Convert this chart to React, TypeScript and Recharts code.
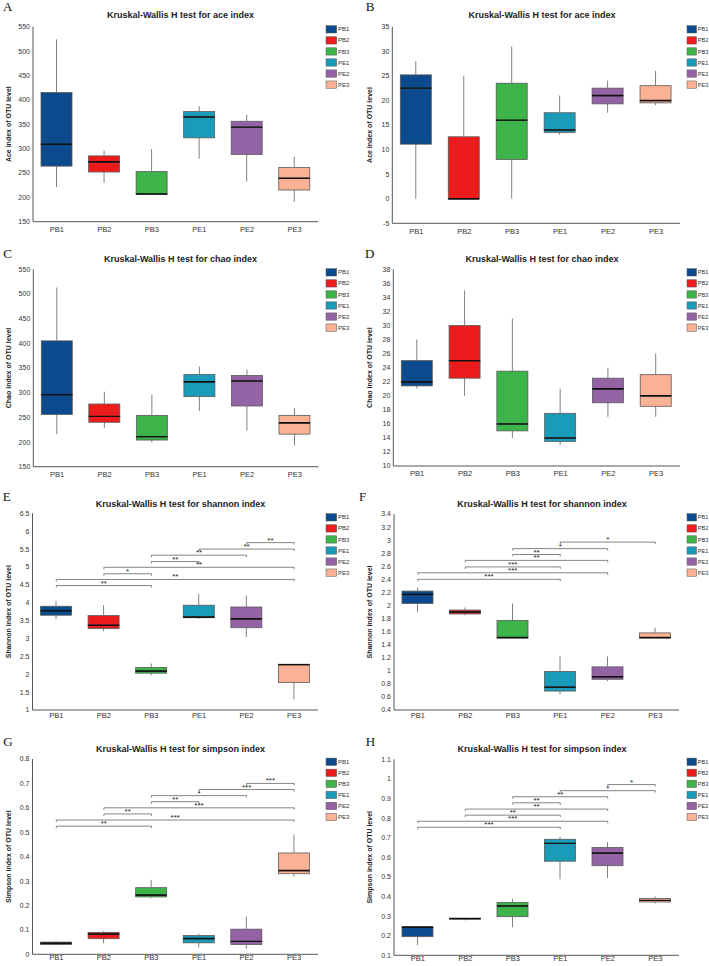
import React from 'react';
import { ComposedChart, Bar, XAxis, YAxis, ReferenceLine } from 'recharts';

const groups = ['PB1', 'PB2', 'PB3', 'PE1', 'PE2', 'PE3'];
const groupColors = ['#0b4a8c', '#ec1c1c', '#3cb44a', '#1a9bb8', '#9463a6', '#fbb193'];

// box stats per group: [min, q1, median, q3, max]
const aceA = [[221, 264, 309, 415, 524], [230, 252, 273, 285, 296], [205, 206, 207, 253, 299], [279, 322, 365, 376, 387], [232, 288, 344, 356, 369], [191, 215, 239, 261, 283]];
const aceB = [[0, 11.1, 22.5, 25.2, 28], [0, 0, 0, 12.6, 25], [0, 8, 16, 23.5, 31], [13, 13.5, 14, 17.5, 21], [17.5, 19.3, 21, 22.5, 24], [19, 19.5, 20, 23, 26]];
const chaoC = [[216, 256, 296, 405, 513], [228, 240, 252, 277, 302], [199, 204, 211, 254, 296], [263, 292, 322, 337, 353], [223, 273, 324, 335, 347], [193, 216, 239, 254, 269]];
const chaoD = [[21, 21.4, 22, 25, 28], [20, 22.5, 25, 30, 35], [14, 15, 16, 23.5, 31], [13, 13.5, 14, 17.5, 21], [17, 19, 21, 22.5, 24], [17, 18.5, 20, 23, 26]];
const shannonE = [[3.54, 3.65, 3.78, 3.9, 4.05], [3.2, 3.28, 3.37, 3.64, 3.93], [1.97, 2.03, 2.09, 2.19, 2.3], [3.55, 3.58, 3.6, 3.93, 4.24], [3.04, 3.3, 3.55, 3.88, 4.2], [1.3, 1.77, 2.27, 2.28, 2.28]];
const shannonF = [[1.9, 2.03, 2.17, 2.22, 2.27], [1.85, 1.87, 1.9, 1.93, 1.97], [1.5, 1.5, 1.51, 1.77, 2.03], [0.64, 0.69, 0.75, 0.99, 1.22], [0.84, 0.87, 0.91, 1.06, 1.22], [1.5, 1.5, 1.51, 1.58, 1.66]];
const simpsonG = [[0.038, 0.04, 0.045, 0.05, 0.055], [0.045, 0.064, 0.083, 0.09, 0.095], [0.23, 0.235, 0.243, 0.273, 0.305], [0.028, 0.047, 0.065, 0.077, 0.085], [0.023, 0.04, 0.053, 0.103, 0.155], [0.318, 0.33, 0.343, 0.415, 0.49]];
const simpsonH = [[0.152, 0.195, 0.243, 0.245, 0.245], [0.278, 0.285, 0.287, 0.29, 0.29], [0.243, 0.297, 0.352, 0.37, 0.388], [0.488, 0.58, 0.671, 0.692, 0.705], [0.495, 0.557, 0.622, 0.65, 0.677], [0.365, 0.372, 0.38, 0.39, 0.4]];

// significance brackets: [from, to, y, stars]
const bracketsE: [string, string, number, string][] = [['PB1', 'PB3', 4.48, '**'], ['PB1', 'PE3', 4.65, '**'], ['PB2', 'PB3', 4.81, '*'], ['PB2', 'PE3', 4.99, '**'], ['PB3', 'PE1', 5.15, '**'], ['PB3', 'PE2', 5.33, '**'], ['PE1', 'PE3', 5.5, '**'], ['PE2', 'PE3', 5.68, '**']];
const bracketsF: [string, string, number, string][] = [['PB1', 'PE1', 2.4, '***'], ['PB1', 'PE2', 2.5, '***'], ['PB2', 'PE1', 2.59, '***'], ['PB2', 'PE2', 2.69, '**'], ['PB3', 'PE1', 2.78, '**'], ['PB3', 'PE2', 2.87, '*'], ['PE1', 'PE3', 2.97, '*']];
const bracketsG: [string, string, number, string][] = [['PB1', 'PB3', 0.525, '**'], ['PB1', 'PE3', 0.55, '***'], ['PB2', 'PB3', 0.575, '**'], ['PB2', 'PE3', 0.6, '***'], ['PB3', 'PE1', 0.625, '**'], ['PB3', 'PE2', 0.65, '*'], ['PE1', 'PE3', 0.675, '***'], ['PE2', 'PE3', 0.7, '***']];
const bracketsH: [string, string, number, string][] = [['PB1', 'PE1', 0.753, '***'], ['PB1', 'PE2', 0.784, '***'], ['PB2', 'PE1', 0.815, '**'], ['PB2', 'PE2', 0.846, '**'], ['PB3', 'PE1', 0.878, '**'], ['PB3', 'PE2', 0.909, '**'], ['PE1', 'PE3', 0.94, '*'], ['PE2', 'PE3', 0.971, '*']];

const ticksAce = [150, 200, 250, 300, 350, 400, 450, 500, 550];
const ticksB = [-5, 0, 5, 10, 15, 20, 25, 30, 35];
const ticksD = [10, 12, 14, 16, 18, 20, 22, 24, 26, 28, 30, 32, 34, 36, 38];
const ticksE = [1, 1.5, 2, 2.5, 3, 3.5, 4, 4.5, 5, 5.5, 6, 6.5];
const ticksF = [0.4, 0.6, 0.8, 1, 1.2, 1.4, 1.6, 1.8, 2, 2.2, 2.4, 2.6, 2.8, 3, 3.2, 3.4];
const ticksG = [0, 0.1, 0.2, 0.3, 0.4, 0.5, 0.6, 0.7, 0.8];
const ticksH = [0.1, 0.2, 0.3, 0.4, 0.5, 0.6, 0.7, 0.8, 0.9, 1, 1.1];

type Panel = {
  letter: string;
  title: string;
  yLabel: string;
  stats: number[][];
  ticks: number[];
  brackets?: [string, string, number, string][];
  col: number;
  row: number;
  plot: { l: number; r: number; t: number; b: number };
  letterPos: [number, number];
  titleY: number;
  legendY: number;
};

const panels: Panel[] = [
  { letter: 'A', title: 'Kruskal-Wallis H test for ace index', yLabel: 'Ace index of OTU level', stats: aceA, ticks: ticksAce, col: 0, row: 0, plot: { l: 33, r: 318.3, t: 26.7, b: 221.7 }, letterPos: [3, 10.7], titleY: 15, legendY: 29.3 },
  { letter: 'B', title: 'Kruskal-Wallis H test for ace index', yLabel: 'Ace index of OTU level', stats: aceB, ticks: ticksB, col: 1, row: 0, plot: { l: 38.3, r: 326, t: 26.7, b: 223.3 }, letterPos: [11.7, 10.7], titleY: 15, legendY: 29.3 },
  { letter: 'C', title: 'Kruskal-Wallis H test for chao index', yLabel: 'Chao index of OTU level', stats: chaoC, ticks: ticksAce, col: 0, row: 1, plot: { l: 33.3, r: 318.5, t: 29.3, b: 226.7 }, letterPos: [3.3, 18.3], titleY: 19, legendY: 32.3 },
  { letter: 'D', title: 'Kruskal-Wallis H test for chao index', yLabel: 'Chao index of OTU level', stats: chaoD, ticks: ticksD, col: 1, row: 1, plot: { l: 39.3, r: 326, t: 29.3, b: 226 }, letterPos: [11, 18.3], titleY: 19, legendY: 32.3 },
  { letter: 'E', title: 'Kruskal-Wallis H test for shannon index', yLabel: 'Shannon index of OTU level', stats: shannonE, ticks: ticksE, brackets: bracketsE, col: 0, row: 2, plot: { l: 32.5, r: 318, t: 33.3, b: 230 }, letterPos: [2.7, 20.7], titleY: 23.3, legendY: 37.3 },
  { letter: 'F', title: 'Kruskal-Wallis H test for shannon index', yLabel: 'Shannon index of OTU level', stats: shannonF, ticks: ticksF, brackets: bracketsF, col: 1, row: 2, plot: { l: 40, r: 325, t: 34, b: 230 }, letterPos: [5, 20.7], titleY: 24, legendY: 37.3 },
  { letter: 'G', title: 'Kruskal-Wallis H test for simpson index', yLabel: 'Simpson index of OTU level', stats: simpsonG, ticks: ticksG, brackets: bracketsG, col: 0, row: 3, plot: { l: 32.5, r: 318, t: 39, b: 234.3 }, letterPos: [3.3, 26], titleY: 28.3, legendY: 41.7 },
  { letter: 'H', title: 'Kruskal-Wallis H test for simpson index', yLabel: 'Simpson index of OTU level', stats: simpsonH, ticks: ticksH, brackets: bracketsH, col: 1, row: 3, plot: { l: 40, r: 325, t: 39.3, b: 235.3 }, letterPos: [11.7, 26], titleY: 28.3, legendY: 41.7 },
];

const fmt = (v: number) => String(parseFloat(v.toFixed(2)));

const whisker = (props: any) => {
  const { x, y, width, height } = props;
  const cx = x + width / 2;
  return <line x1={cx} x2={cx} y1={y} y2={y + height} stroke="#808080" strokeWidth={1} />;
};

const boxPart = (medianAtTop: boolean) => (props: any) => {
  const { x, y, width, height, payload, index } = props;
  const color = (payload && payload.color) || groupColors[index];
  const my = medianAtTop ? y : y + height;
  return (
    <g>
      <rect x={x} y={y} width={width} height={Math.max(height, 0)} fill={color} stroke="#5a5a5a" strokeWidth={0.8} />
      <line x1={x} x2={x + width} y1={my} y2={my} stroke="#111" strokeWidth={1.4} />
    </g>
  );
};

const ChartPanel = ({ p }: { p: Panel }) => {
  const W = p.col === 0 ? 354 : 355;
  const H = 250;
  const xAxisH = 14;
  const data = groups.map((g, i) => {
    const [mn, q1, md, q3, mx] = p.stats[i];
    return { name: g, color: groupColors[i], base: mn, lowW: q1 - mn, lowBox: md - q1, highBox: q3 - md, highW: mx - q3 };
  });
  const lo = p.ticks[0];
  const hi = p.ticks[p.ticks.length - 1];
  const tk = (hi - lo) * 0.01;
  const labelX = p.col === 0 ? 9 : 16;
  const titleX = p.col === 0 ? 180.5 : 188;
  const legendX = p.col === 0 ? 326 : 333;
  const swatchW = p.col === 0 ? 10.7 : 9.5;
  const legendFont = p.col === 0 ? 6 : 5.6;
  const xMargin = [5, 5, 3, 0.5][p.row];

  return (
    <div style={{ position: 'absolute', left: p.col * 354, top: p.row * 240, width: W, height: H }}>
      <ComposedChart
        width={W}
        height={H}
        data={data}
        barSize={31}
        margin={{ top: p.plot.t, right: W - p.plot.r, bottom: H - p.plot.b - xAxisH, left: 2 }}
      >
        <XAxis
          dataKey="name"
          height={xAxisH}
          interval={0}
          tickLine={false}
          tickSize={0}
          tickMargin={xMargin}
          axisLine={{ stroke: '#555' }}
          tick={{ fontSize: 7.5, fill: '#333' }}
        />
        <YAxis
          type="number"
          width={p.plot.l - 2}
          domain={[lo, hi]}
          ticks={p.ticks}
          allowDataOverflow
          interval={0}
          tickLine={false}
          tickSize={0}
          tickMargin={3}
          tickFormatter={fmt}
          axisLine={{ stroke: '#555' }}
          tick={{ fontSize: 7, fill: '#333' }}
          label={{
            value: p.yLabel,
            angle: -90,
            position: 'insideLeft',
            offset: labelX - 2,
            style: { textAnchor: 'middle', fontWeight: 'bold', fontSize: 7, fill: '#222' },
          }}
        />
        <Bar dataKey="base" stackId="b" isAnimationActive={false} shape={() => <g />} />
        <Bar dataKey="lowW" stackId="b" isAnimationActive={false} shape={whisker} />
        <Bar dataKey="lowBox" stackId="b" isAnimationActive={false} shape={boxPart(true)} />
        <Bar dataKey="highBox" stackId="b" isAnimationActive={false} shape={boxPart(false)} />
        <Bar dataKey="highW" stackId="b" isAnimationActive={false} shape={whisker} />
        {(p.brackets || []).flatMap(([a, b, yv, s], k) => [
          <ReferenceLine
            key={`h${k}`}
            segment={[{ x: a, y: yv }, { x: b, y: yv }]}
            stroke="#666"
            strokeWidth={0.8}
            label={{ value: s, position: 'top', offset: 0, fontSize: 8, fill: '#222' }}
          />,
          <ReferenceLine key={`a${k}`} segment={[{ x: a, y: yv }, { x: a, y: yv - tk }]} stroke="#666" strokeWidth={0.8} />,
          <ReferenceLine key={`b${k}`} segment={[{ x: b, y: yv }, { x: b, y: yv - tk }]} stroke="#666" strokeWidth={0.8} />,
        ])}
      </ComposedChart>
      <svg width={W} height={H} style={{ position: 'absolute', left: 0, top: 0, pointerEvents: 'none', overflow: 'visible' }}>
        <text x={p.letterPos[0]} y={p.letterPos[1]} fontFamily="'Liberation Serif', serif" fontSize={13} fill="#111">
          {p.letter}
        </text>
        <text x={titleX} y={p.titleY + 3.3} textAnchor="middle" fontWeight="bold" fontSize={9} fill="#222">
          {p.title}
        </text>
        {groups.map((g, i) => {
          const cy = p.legendY + i * 11.05;
          return (
            <g key={g}>
              <rect x={legendX} y={cy - 3.6} width={swatchW} height={7.3} fill={groupColors[i]} stroke="#555" strokeWidth={0.5} />
              <text x={legendX + swatchW + 1.2} y={cy + 2.1} fontSize={legendFont} fill="#333">
                {g}
              </text>
            </g>
          );
        })}
      </svg>
    </div>
  );
};

export default function App() {
  return (
    <div
      style={{
        position: 'absolute',
        left: 0,
        top: 0,
        width: 709,
        height: 966,
        background: '#fff',
        fontFamily: "'Liberation Sans', Arial, sans-serif",
        overflow: 'hidden',
      }}
    >
      {panels.map((p) => (
        <ChartPanel key={p.letter} p={p} />
      ))}
    </div>
  );
}
